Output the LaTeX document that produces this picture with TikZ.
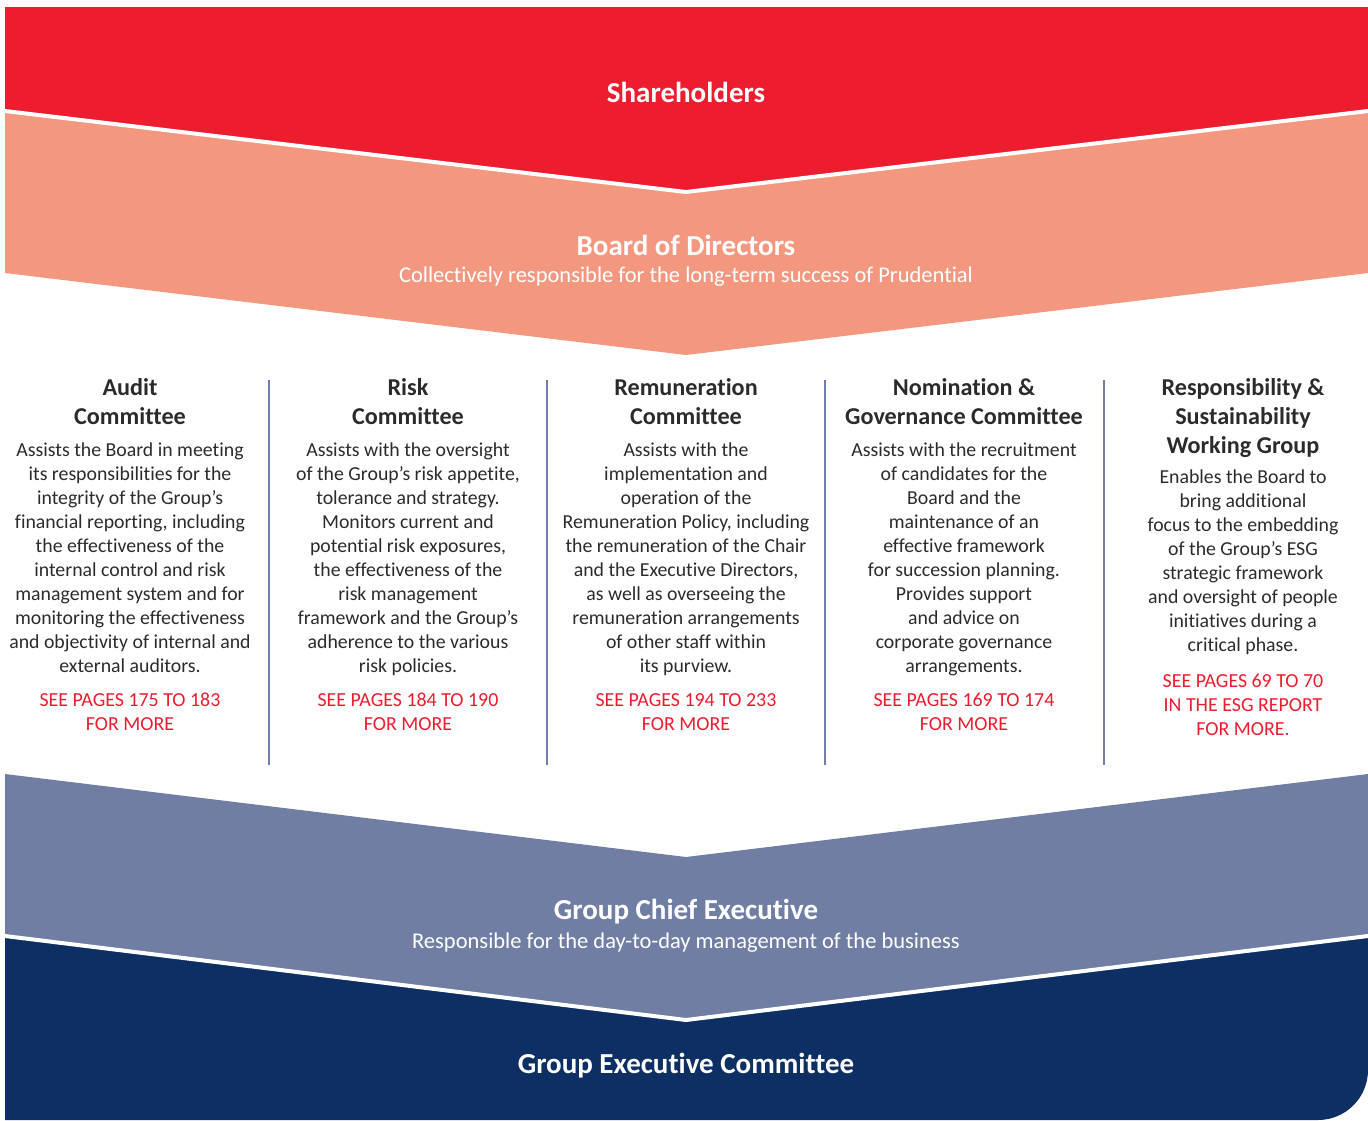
\documentclass[tikz,border=0pt]{standalone}
\usepackage{fontspec}
\setmainfont{Carlito}[Ligatures=NoCommon]
\definecolor{pruRed}{HTML}{ED1C2E}
\definecolor{pruSalmon}{HTML}{F4977F}
\definecolor{pruSlate}{HTML}{717EA3}
\definecolor{pruNavy}{HTML}{0D2F63}
\definecolor{pruText}{HTML}{2B2B2B}
\definecolor{pruRule}{HTML}{6F7FA8}
\begin{document}
\begin{tikzpicture}[x=1pt,y=-1pt,
  bigtitle/.style={text=white,font=\fontsize{29}{32}\selectfont\bfseries,inner sep=0,anchor=base},
  subtitle/.style={text=white,font=\fontsize{22.5}{26}\selectfont,inner sep=0,anchor=base},
  colhead/.style={text=pruText,font=\fontsize{24.2}{29}\selectfont\bfseries,align=center,inner sep=0,anchor=north},
  colbody/.style={text=pruText,font=\fontsize{19.8}{24}\selectfont,align=center,inner sep=0,anchor=north},
  collink/.style={text=pruRed,font=\fontsize{19.9}{24}\selectfont,align=center,inner sep=0,anchor=north},
  divider/.style={draw=pruRule,line width=1.3pt},
  seam/.style={draw=white,line width=4pt}
]
\useasboundingbox (0,0) rectangle (1368,1120);
% bands
\fill[pruRed] (5,7) -- (1368,7) -- (1368,111) -- (686,192) -- (5,111) -- cycle;
\fill[pruSalmon] (5,111) -- (686,192) -- (1368,111) -- (1368,273) -- (686,355) -- (5,273) -- cycle;
\draw[seam] (5,111) -- (686,192) -- (1368,111);
\fill[pruSlate] (5,774) -- (686,857) -- (1368,774) -- (1368,936) -- (686,1020) -- (5,936) -- cycle;
\fill[pruNavy] (5,936) -- (686,1020) -- (1368,936) -- (1368,1070) arc[start angle=0,end angle=90,radius=50] -- (5,1120) -- cycle;
\draw[seam] (5,936) -- (686,1020) -- (1368,936);
% band titles
\node[bigtitle] (sh) at (686,102) {Shareholders};
\node[bigtitle] (bd) at (686,255) {Board of Directors};
\node[subtitle] (bds) at (686,282) {Collectively responsible for the long-term success of Prudential};
\node[bigtitle] (gce) at (686,919) {Group Chief Executive};
\node[subtitle] (gces) at (686,948) {Responsible for the day-to-day management of the business};
\node[bigtitle] (gec) at (686,1073) {Group Executive Committee};
% dividers
\coordinate (d1t) at (269,380); \coordinate (d1b) at (269,765);
\coordinate (d2t) at (547,380); \coordinate (d2b) at (547,765);
\coordinate (d3t) at (825,380); \coordinate (d3b) at (825,765);
\coordinate (d4t) at (1104,380); \coordinate (d4b) at (1104,765);
\draw[divider] (d1t) -- (d1b);
\draw[divider] (d2t) -- (d2b);
\draw[divider] (d3t) -- (d3b);
\draw[divider] (d4t) -- (d4b);
% column 1
\node[colhead] (h1) at (130,378) {Audit\\Committee};
\node[colbody] (b1) at (130,443) {Assists the Board in meeting\\its responsibilities for the\\integrity of the Group’s\\financial reporting, including\\the effectiveness of the\\internal control and risk\\management system and for\\monitoring the effectiveness\\and objectivity of internal and\\external auditors.};
\node[collink] (l1) at (130,693) {SEE PAGES 175 TO 183\\FOR MORE};
% column 2
\node[colhead] (h2) at (408,378) {Risk\\Committee};
\node[colbody] (b2) at (408,443) {Assists with the oversight\\of the Group’s risk appetite,\\tolerance and strategy.\\Monitors current and\\potential risk exposures,\\the effectiveness of the\\risk management\\framework and the Group’s\\adherence to the various\\risk policies.};
\node[collink] (l2) at (408,693) {SEE PAGES 184 TO 190\\FOR MORE};
% column 3
\node[colhead] (h3) at (686,378) {Remuneration\\Committee};
\node[colbody] (b3) at (686,443) {Assists with the\\implementation and\\operation of the\\Remuneration Policy, including\\the remuneration of the Chair\\and the Executive Directors,\\as well as overseeing the\\remuneration arrangements\\of other staff within\\its purview.};
\node[collink] (l3) at (686,693) {SEE PAGES 194 TO 233\\FOR MORE};
% column 4
\node[colhead] (h4) at (964,378) {Nomination \&\\Governance Committee};
\node[colbody] (b4) at (964,443) {Assists with the recruitment\\of candidates for the\\Board and the\\maintenance of an\\effective framework\\for succession planning.\\Provides support\\and advice on\\corporate governance\\arrangements.};
\node[collink] (l4) at (964,693) {SEE PAGES 169 TO 174\\FOR MORE};
% column 5
\node[colhead] (h5) at (1243,378) {Responsibility \&\\Sustainability\\Working Group};
\node[colbody] (b5) at (1243,470) {Enables the Board to\\bring additional\\focus to the embedding\\of the Group’s ESG\\strategic framework\\and oversight of people\\initiatives during a\\critical phase.};
\node[collink] (l5) at (1243,674) {SEE PAGES 69 TO 70\\IN THE ESG REPORT\\FOR MORE.};
\end{tikzpicture}
\end{document}
